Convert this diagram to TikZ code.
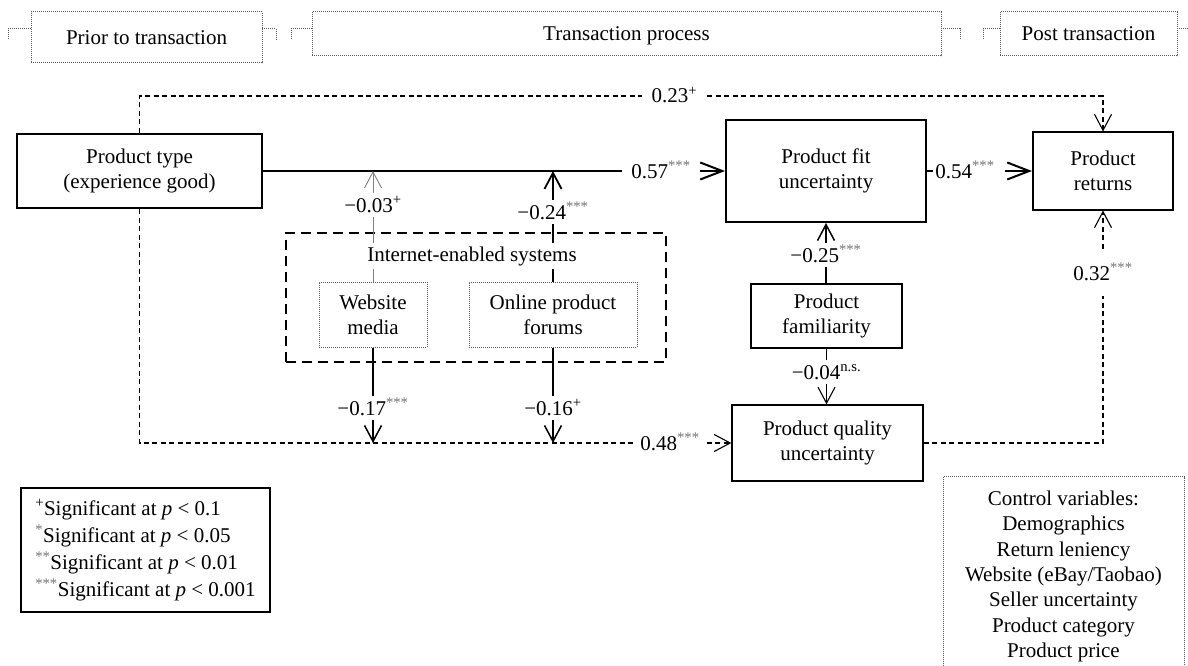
\documentclass[tikz,border=0pt]{standalone}
\usepackage{fontspec}
\setmainfont{Liberation Serif}
\usetikzlibrary{arrows.meta}
\definecolor{sgray}{gray}{0.45}
\definecolor{dgray}{gray}{0.35}
\definecolor{agray}{gray}{0.5}
\newcommand\mystars[1]{\textsuperscript{\textcolor{sgray}{#1}}}
\newcommand\myplus{\textsuperscript{+}}
\begin{document}
\begin{tikzpicture}[x=1pt,y=-1pt,
  every node/.style={font=\fontsize{21}{25}\selectfont},
  thickbox/.style={draw, line width=2pt, align=center, inner sep=0pt},
  normbox/.style={draw, line width=1.3pt, align=center, inner sep=0pt},
  dotbox/.style={draw=dgray, densely dotted, line width=1pt, align=center, inner sep=0pt},
  oneline/.style={text height=14pt, text depth=0pt},
  dotline/.style={draw=dgray, densely dotted, line width=1pt},
  groupbox/.style={draw, dash pattern=on 10pt off 6pt, line width=1.7pt, inner sep=0pt},
  lbl/.style={inner xsep=4pt, inner ysep=5pt, text height=14pt, text depth=0pt},
  mainline/.style={line width=2pt},
  dline/.style={dash pattern=on 5pt off 3.5pt, line width=1.1pt},
  tipv/.style={-{Straight Barb[length=16pt,width=17pt]}},
  tiph/.style={-{Straight Barb[length=22pt,width=17pt]}},
]
\useasboundingbox (0,0) rectangle (1188,666);
\clip (0,0) rectangle (1188,666);

% top phase boxes
\node[dotbox, oneline, minimum width=231pt, minimum height=51pt] (prior) at (146.5,37.5) {Prior to transaction};
\node[dotbox, oneline, minimum width=629pt, minimum height=44pt] (trans) at (626.5,34) {Transaction process};
\node[dotbox, oneline, minimum width=177pt, minimum height=44pt] (post) at (1088.5,34) {Post transaction};
\draw[dotline] (31,29) -- (8,29) -- (8,40);
\draw[dotline] (262,29) -- (276,29) -- (276,40);
\draw[dotline] (312,29) -- (291,29) -- (291,40);
\draw[dotline] (941,29) -- (960,29) -- (960,40);
\draw[dotline] (1000,29) -- (983,29) -- (983,40);
\draw[dotline] (1177,29) -- (1195,29);

% main boxes
\node[thickbox, minimum width=245pt, minimum height=74pt] (pt) at (139.5,171) {Product type\\(experience good)};
\node[thickbox, minimum width=200pt, minimum height=102pt] (fit) at (826,171) {Product fit\\uncertainty};
\node[thickbox, minimum width=140pt, minimum height=77pt] (ret) at (1103,171) {Product\\returns};
\node[normbox, minimum width=151pt, minimum height=64pt] (fam) at (826.5,316) {Product\\familiarity};
\node[normbox, minimum width=191pt, minimum height=76pt] (qual) at (827.5,443) {Product quality\\uncertainty};

% internet-enabled systems group
\node[groupbox, minimum width=380pt, minimum height=129pt] (ies) at (476,297.5) {};
\node[dotbox, minimum width=108pt, minimum height=65pt] (web) at (373,314.5) {Website\\media};
\node[dotbox, minimum width=168pt, minimum height=65pt] (forum) at (553,314.5) {Online product\\forums};

% labels
\node[lbl, inner xsep=9pt] (l57) at (661,171) {0.57\mystars{***}};
\node[lbl, inner xsep=2pt] (l54) at (965,171) {0.54\mystars{***}};
\node[lbl, inner xsep=10pt] (l23) at (674.5,96) {0.23\myplus};
\node[lbl, inner xsep=7pt] (l48) at (670,443) {0.48\mystars{***}};
\node[lbl] (l32) at (1103,273) {0.32\mystars{***}};
\node[lbl] (l03) at (373,205) {−0.03\myplus};
\node[lbl] (l24) at (553,212) {−0.24\mystars{***}};
\node[lbl] (l17) at (373,408) {−0.17\mystars{***}};
\node[lbl] (l16) at (553,408) {−0.16\myplus};
\node[lbl] (l25) at (826,255) {−0.25\mystars{***}};
\node[lbl] (l04) at (826.5,372) {−0.04\textsuperscript{n.s.}};

\coordinate (c03) at (373,171);
\coordinate (c24) at (553,171);
\coordinate (c17) at (373,443);
\coordinate (c16) at (553,443);

% connectors
\draw[mainline] (pt.east) -- (l57.west);
\draw[mainline, tiph] (l57.east) -- (fit.west);
\draw[mainline] (fit.east) -- (l54.west);
\draw[mainline, tiph, shorten <=8pt] (l54.east) -- (ret.west);
\draw[dline] (pt.north) |- (l23.west);
\draw[dline, tipv] (l23.east) -| (ret.north);
\draw[dline] (pt.south) |- (l48.west);
\draw[dline, tipv] (l48.east) -- (qual.west);
\draw[dline, shorten >=11pt] (qual.east) -| (l32.south);
\draw[dline, tipv, shorten <=12pt] (l32.north) -- (ret.south);

\draw[agray, line width=0.9pt, tipv] (l03.north) -- (c03);
\draw[agray, line width=0.9pt] (l03.south) -- (web.north);
\draw[line width=1.8pt, tipv] (l24.north) -- (c24);
\draw[line width=1.5pt] (l24.south) -- (forum.north);
\draw[line width=1.5pt] (web.south) -- (l17.north);
\draw[line width=1.5pt, tipv] (l17.south) -- (c17);
\draw[line width=1.5pt] (forum.south) -- (l16.north);
\draw[line width=1.5pt, tipv] (l16.south) -- (c16);
\draw[line width=1.5pt, tipv] (l25.north) -- (l25.north |- fit.south);
\draw[line width=1.5pt] (l25.south) -- (l25.south |- fam.north);
\draw[line width=1.1pt] (l04.north) -- (l04.north |- fam.south);
\draw[line width=1.1pt, tipv] (l04.south) -- (l04.south |- qual.north);

\node[fill=white, inner xsep=2pt, inner ysep=3pt] (iestitle) at (472,256) {Internet-enabled systems};

% legend
\node[normbox, align=left, minimum width=249pt, minimum height=124pt, font=\fontsize{21}{27}\selectfont] (leg) at (145.5,550)
  {\myplus Significant at \textit{p} < 0.1\\
   \mystars{*}Significant at \textit{p} < 0.05\\
   \mystars{**}Significant at \textit{p} < 0.01\\
   \mystars{***}Significant at \textit{p} < 0.001};

% control variables
\node[dotbox, anchor=north, minimum width=241pt, inner ysep=14.5pt, font=\fontsize{21}{25.3}\selectfont] (ctrl) at (1063.5,476)
  {Control variables:\\Demographics\\Return leniency\\Website (eBay/Taobao)\\Seller uncertainty\\Product category\\Product price};
\end{tikzpicture}
\end{document}
